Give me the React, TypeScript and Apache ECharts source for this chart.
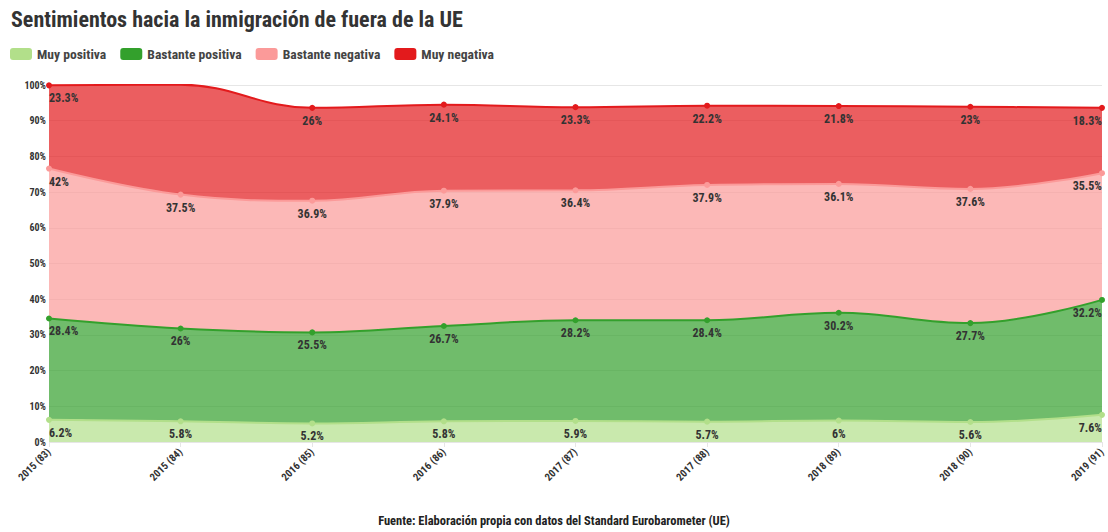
import React, { useEffect, useRef } from "react";
import * as echarts from "echarts";

const categories = [
  "2015 (83)", "2015 (84)", "2016 (85)", "2016 (86)", "2017 (87)",
  "2017 (88)", "2018 (89)", "2018 (90)", "2019 (91)",
];
const muyPositiva = [6.2, 5.8, 5.2, 5.8, 5.9, 5.7, 6, 5.6, 7.6];
const bastantePositiva = [28.4, 26, 25.5, 26.7, 28.2, 28.4, 30.2, 27.7, 32.2];
const bastanteNegativa = [42, 37.5, 36.9, 37.9, 36.4, 37.9, 36.1, 37.6, 35.5];
const muyNegativa = [23.3, 30.8, 26, 24.1, 23.3, 22.2, 21.8, 23, 18.3];
const seriesNames = ["Muy positiva", "Bastante positiva", "Bastante negativa", "Muy negativa"];
const seriesColors = ["#b2df8a", "#33a02c", "#fb9a99", "#e31a1c"];
const yTicks = [0, 10, 20, 30, 40, 50, 60, 70, 80, 90, 100];

const FONT = "'Roboto Condensed', 'Liberation Sans Narrow', 'DejaVu Sans Condensed', Roboto, sans-serif";

export default function App() {
  const ref = useRef<HTMLDivElement>(null);
  useEffect(() => {
    if (!ref.current) return;
    const chart = echarts.init(ref.current, undefined, { renderer: "svg" });
    const all = [muyPositiva, bastantePositiva, bastanteNegativa, muyNegativa];
    const last = categories.length - 1;
    const series = all.map((vals, si) => ({
      name: seriesNames[si],
      type: "line",
      stack: "total",
      smooth: 0.4,
      symbol: "circle",
      symbolSize: 6,
      lineStyle: { width: 2, color: seriesColors[si] },
      itemStyle: { color: seriesColors[si] },
      areaStyle: { color: seriesColors[si], opacity: 0.7 },
      label: {
        show: true,
        position: "bottom",
        distance: 4,
        formatter: (p: any) => p.value + "%",
        color: "#333",
        fontWeight: "bold",
        fontSize: 12,
        fontFamily: FONT,
      },
      data: vals.map((v, i) => ({
        value: v,
        label: i === 0 ? { align: "left" } : i === last ? { align: "right" } : {},
      })),
    }));
    chart.setOption({
      animation: false,
      textStyle: { fontFamily: FONT },
      title: {
        text: "Sentimientos hacia la inmigración de fuera de la UE",
        left: 6,
        top: 3,
        textStyle: { fontSize: 22, fontWeight: "bold", color: "#333", fontFamily: FONT },
      },
      legend: {
        left: 5,
        top: 42,
        itemWidth: 22,
        itemHeight: 12,
        itemGap: 14,
        icon: "roundRect",
        data: seriesNames.map((n, i) => ({ name: n, itemStyle: { color: seriesColors[i], opacity: 1 } })),
        textStyle: { fontSize: 13.6, fontWeight: "bold", color: "#444", fontFamily: FONT },
      },
      grid: { left: 49, right: 5, top: 85, bottom: 90, containLabel: false },
      xAxis: {
        type: "category",
        boundaryGap: false,
        data: categories,
        axisLine: { show: false },
        axisTick: { show: true, alignWithLabel: true, length: 5, lineStyle: { color: "#e6e6e6" } },
        axisLabel: {
          rotate: 45,
          fontSize: 10.5,
          fontWeight: "bold",
          color: "#333",
          fontFamily: FONT,
          margin: 8,
          interval: 0,
        },
      },
      yAxis: {
        type: "value",
        min: 0,
        max: 100,
        interval: 10,
        axisLine: { show: false },
        axisTick: { show: false },
        splitLine: { lineStyle: { color: "#e6e6e6" } },
        axisLabel: {
          formatter: (v: number) => (yTicks.includes(v) ? v + "%" : ""),
          fontSize: 10,
          fontWeight: "bold",
          color: "#333",
          fontFamily: FONT,
          margin: 3,
        },
      },
      graphic: [
        {
          type: "text",
          left: "center",
          top: 514,
          style: {
            text: "Fuente: Elaboración propia con datos del Standard Eurobarometer (UE)",
            fontSize: 12.5,
            fontWeight: "bold",
            fill: "#222",
            fontFamily: FONT,
          },
        },
      ],
      series,
    });
    return () => chart.dispose();
  }, []);
  return (
    <div
      ref={ref}
      style={{ width: 1108, height: 532, position: "absolute", left: 0, top: 0 }}
    />
  );
}
